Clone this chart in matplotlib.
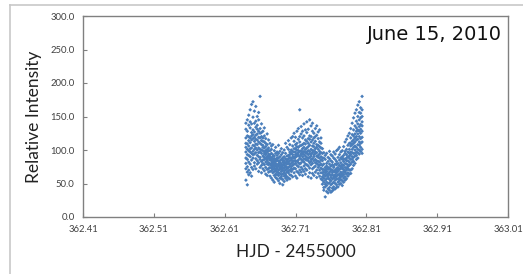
import matplotlib
matplotlib.use("Agg")
import matplotlib.pyplot as plt
from matplotlib.lines import Line2D

# ---- data ----
hjd_cols = [362.640, 362.642, 362.644, 362.646, 362.648, 362.650, 362.652, 362.654,
            362.656, 362.658, 362.660, 362.662, 362.664, 362.666, 362.668, 362.670,
            362.672, 362.674, 362.676, 362.678, 362.680, 362.682, 362.684, 362.686,
            362.688, 362.690, 362.692, 362.694, 362.696, 362.698, 362.700, 362.702,
            362.704, 362.706, 362.708, 362.710, 362.712, 362.714, 362.716, 362.718,
            362.720, 362.722, 362.724, 362.726, 362.728, 362.730, 362.732, 362.734,
            362.736, 362.738, 362.740, 362.742, 362.744, 362.746, 362.748, 362.750,
            362.752, 362.754, 362.756, 362.758, 362.760, 362.762, 362.764, 362.766,
            362.768, 362.770, 362.772, 362.774, 362.776, 362.778, 362.780, 362.782,
            362.784, 362.786, 362.788, 362.790, 362.792, 362.794, 362.796, 362.798,
            362.800, 362.802, 362.804]

intensity_cols = [
    [55, 88, 131, 97, 72, 118, 104, 140, 80, 110],
    [48, 121, 93, 67, 109, 145, 86, 101, 128, 75],
    [92, 63, 137, 114, 99, 82, 152, 120, 70, 106],
    [118, 79, 102, 160, 90, 133, 66, 111, 97, 142],
    [85, 126, 103, 168, 74, 115, 139, 95, 121, 61],
    [130, 98, 71, 117, 107, 149, 88, 123, 172, 93],
    [94, 140, 119, 81, 106, 158, 127, 101, 76, 113],
    [122, 87, 109, 134, 96, 165, 72, 116, 143, 103],
    [100, 131, 79, 115, 150, 92, 124, 108, 84, 137],
    [112, 90, 145, 68, 103, 128, 96, 119, 81, 156],
    [86, 118, 101, 132, 74, 180, 97, 110, 125, 89],
    [108, 77, 126, 95, 114, 83, 139, 100, 66, 120],
    [91, 113, 72, 104, 128, 85, 99, 118, 80, 107],
    [103, 69, 89, 121, 94, 78, 112, 86, 133, 97],
    [82, 105, 93, 64, 117, 88, 99, 74, 110, 95],
    [97, 71, 86, 108, 79, 124, 90, 62, 101, 84],
    [78, 94, 67, 103, 88, 81, 115, 72, 92, 99],
    [90, 74, 99, 61, 85, 110, 79, 93, 68, 87],
    [69, 88, 77, 101, 84, 58, 95, 80, 106, 73],
    [86, 66, 93, 75, 82, 108, 71, 55, 90, 79],
    [73, 91, 62, 84, 77, 99, 68, 87, 52, 81],
    [80, 64, 95, 71, 86, 59, 76, 104, 69, 83],
    [67, 85, 74, 57, 92, 78, 63, 97, 72, 88],
    [79, 62, 88, 70, 54, 83, 95, 66, 76, 107],
    [71, 84, 58, 77, 90, 65, 81, 50, 73, 98],
    [63, 79, 93, 68, 75, 57, 86, 72, 102, 60],
    [82, 56, 70, 88, 64, 77, 96, 48, 74, 85],
    [69, 90, 61, 78, 84, 53, 73, 100, 66, 80],
    [87, 64, 75, 95, 58, 81, 70, 110, 76, 62],
    [72, 85, 55, 79, 91, 67, 104, 74, 83, 60],
    [66, 92, 80, 58, 87, 74, 101, 69, 114, 82],
    [89, 70, 97, 63, 79, 108, 84, 57, 93, 76],
    [75, 100, 68, 88, 118, 80, 62, 95, 85, 72],
    [93, 71, 82, 106, 60, 89, 120, 77, 98, 84],
    [79, 102, 66, 90, 113, 84, 73, 97, 125, 88],
    [97, 72, 108, 84, 61, 93, 119, 80, 102, 89],
    [83, 110, 91, 68, 100, 128, 77, 94, 58, 105],
    [104, 75, 92, 116, 85, 66, 99, 132, 81, 96],
    [88, 112, 160, 79, 98, 70, 120, 91, 106, 63],
    [99, 81, 124, 93, 67, 107, 86, 135, 95, 74],
    [84, 108, 95, 71, 118, 90, 128, 62, 102, 97],
    [110, 76, 98, 139, 87, 104, 68, 93, 121, 82],
    [91, 115, 79, 101, 130, 72, 96, 109, 86, 64],
    [103, 85, 126, 70, 97, 113, 89, 142, 78, 95],
    [76, 99, 117, 88, 60, 105, 93, 131, 84, 110],
    [95, 121, 81, 107, 145, 73, 98, 89, 116, 66],
    [112, 78, 94, 136, 86, 101, 58, 120, 91, 83],
    [87, 106, 128, 72, 96, 115, 80, 140, 99, 65],
    [99, 74, 118, 90, 105, 62, 125, 84, 110, 93],
    [81, 113, 95, 67, 102, 132, 86, 97, 76, 120],
    [104, 70, 91, 122, 84, 108, 59, 96, 136, 80],
    [92, 117, 78, 101, 65, 89, 127, 83, 107, 74],
    [77, 98, 112, 61, 88, 130, 82, 94, 70, 105],
    [90, 66, 103, 79, 118, 57, 85, 96, 73, 110],
    [60, 84, 49, 77, 95, 66, 102, 55, 71, 88],
    [71, 52, 88, 63, 44, 79, 58, 96, 67, 40],
    [55, 74, 30, 66, 86, 49, 61, 92, 70, 45],
    [68, 47, 80, 57, 38, 72, 63, 95, 52, 76],
    [50, 65, 89, 42, 71, 58, 83, 61, 36, 74],
    [73, 56, 44, 79, 64, 98, 51, 67, 87, 40],
    [59, 84, 48, 69, 37, 76, 62, 93, 54, 71],
    [66, 43, 78, 57, 91, 63, 50, 82, 70, 39],
    [52, 74, 61, 88, 45, 68, 97, 58, 76, 41],
    [79, 55, 70, 42, 86, 63, 50, 94, 67, 60],
    [61, 83, 48, 72, 57, 99, 66, 44, 78, 69],
    [74, 52, 89, 63, 45, 80, 68, 101, 57, 71],
    [58, 77, 64, 93, 49, 71, 85, 62, 104, 54],
    [81, 60, 73, 50, 88, 67, 97, 56, 76, 63],
    [65, 86, 54, 78, 99, 61, 72, 47, 90, 74],
    [77, 58, 92, 68, 83, 52, 105, 71, 63, 87],
    [69, 95, 60, 80, 74, 112, 55, 86, 66, 98],
    [88, 64, 101, 73, 57, 93, 79, 116, 70, 84],
    [72, 97, 84, 61, 107, 78, 121, 66, 90, 75],
    [95, 70, 110, 82, 64, 125, 88, 77, 101, 91],
    [79, 106, 93, 118, 70, 86, 132, 97, 65, 110],
    [101, 82, 123, 90, 72, 113, 96, 140, 86, 108],
    [89, 115, 104, 77, 130, 95, 148, 83, 110, 121],
    [112, 91, 136, 100, 80, 124, 106, 155, 95, 118],
    [97, 128, 115, 86, 143, 104, 120, 160, 92, 133],
    [124, 101, 139, 88, 116, 150, 108, 130, 96, 167],
    [107, 135, 120, 94, 156, 112, 145, 128, 100, 172],
    [131, 104, 148, 117, 163, 98, 138, 125, 110, 155],
    [112, 142, 128, 180, 101, 150, 119, 136, 95, 160],
]

x_ticks = [362.41, 362.51, 362.61, 362.71, 362.81, 362.91, 363.01]
y_ticks = [0, 50, 100, 150, 200, 250, 300]
title_text = "June 15, 2010"
x_label = "HJD - 2455000"
y_label = "Relative Intensity"

# flatten
xs, ys = [], []
for t, vals in zip(hjd_cols, intensity_cols):
    for v in vals:
        xs.append(t)
        ys.append(v)

fig = plt.figure(figsize=(5.23, 2.74), dpi=100)
fig.patch.set_facecolor("white")

# outer chart frame (screenshot of a chart object)
fig.add_artist(Line2D([10/523, 10/523], [0, 1 - 5/274], transform=fig.transFigure,
                      color="#c8c8c8", lw=1.2))
fig.add_artist(Line2D([10/523, 1], [1 - 5/274, 1 - 5/274], transform=fig.transFigure,
                      color="#c8c8c8", lw=1.2))

ax = fig.add_axes([83/523, 1 - 217/274, (508 - 83)/523, (217 - 16)/274])
ax.scatter(xs, ys, s=3.6, marker="D", color="#4a7ebb", edgecolors="none",
           zorder=3)

ax.set_xlim(x_ticks[0], x_ticks[-1])
ax.set_ylim(y_ticks[0], y_ticks[-1])
ax.set_xticks(x_ticks)
ax.set_xticklabels([f"{v:.2f}" for v in x_ticks])
ax.set_yticks(y_ticks)
ax.set_yticklabels([f"{v:.1f}" for v in y_ticks])

for s in ax.spines.values():
    s.set_color("#808080")
    s.set_linewidth(1.0)

ax.tick_params(axis="both", direction="in", length=3, width=0.8, color="#808080",
               labelsize=6.8, labelcolor="#404040")
ax.tick_params(axis="x", pad=6)
ax.tick_params(axis="y", pad=6)
for lab in ax.get_xticklabels() + ax.get_yticklabels():
    lab.set_family("Lato")

ax.set_xlabel(x_label, fontsize=12.5, family="Lato", color="#222222", labelpad=7)
ax.set_ylabel(y_label, fontsize=12.5, family="Lato", color="#222222", labelpad=6)

ax.text(0.985, 0.955, title_text, transform=ax.transAxes, ha="right", va="top",
        fontsize=14, family="DejaVu Sans", color="#111111")

fig.savefig("out.png", dpi=100, facecolor="white")
